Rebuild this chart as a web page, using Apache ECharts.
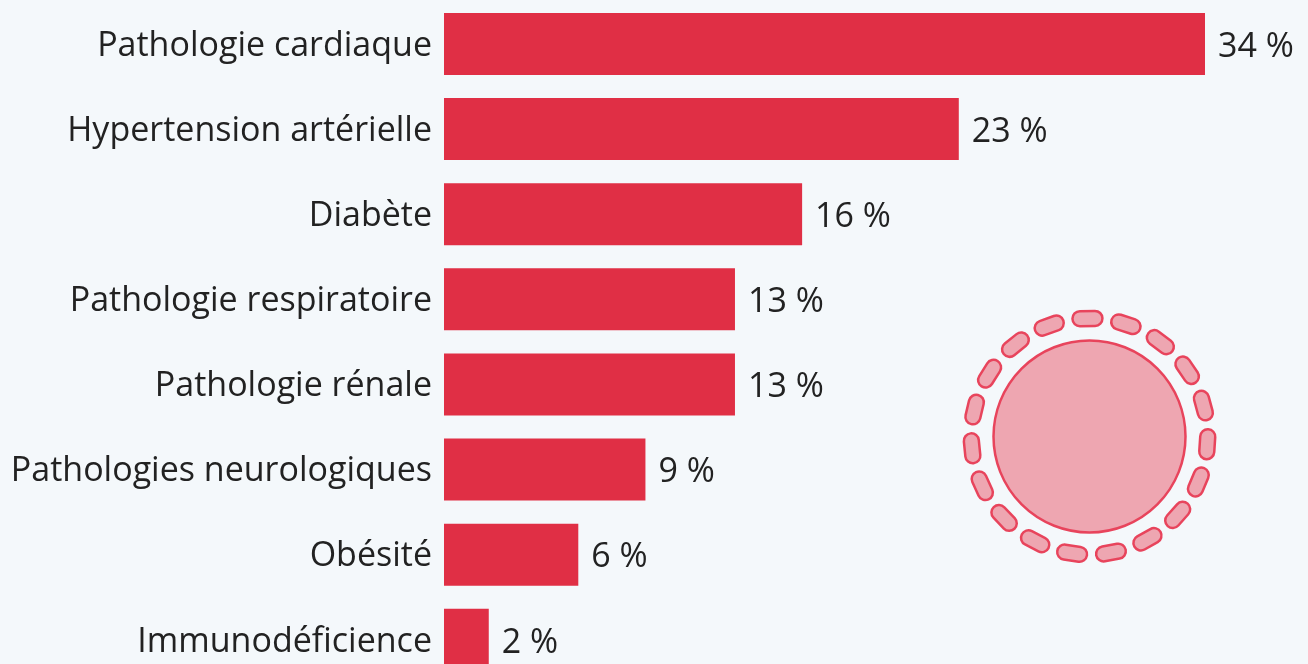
<!DOCTYPE html>
<html><head><meta charset="utf-8">
<style>html,body{margin:0;padding:0;background:#f4f8fb}#c{width:1308px;height:664px}</style>
<script src="https://cdn.jsdelivr.net/npm/echarts@6/dist/echarts.min.js"></script>
</head><body><div id="c"></div>
<script>
const categories = ["Pathologie cardiaque","Hypertension artérielle","Diabète","Pathologie respiratoire","Pathologie rénale","Pathologies neurologiques","Obésité","Immunodéficience"];
const values = [34,23,16,13,13,9,6,2];
const font = '"Open Sans"';
const cx = 1089.5, cy = 436.5, pills = 19;
const graphic = [{type:'circle',shape:{cx:cx,cy:cy,r:96},style:{fill:'#eea6b1',stroke:'#e8445c',lineWidth:2.5}}];
for (let i=0;i<pills;i++){
  const a=(-1+i*360/pills)*Math.PI/180;
  graphic.push({type:'rect',x:cx+118*Math.sin(a),y:cy-118*Math.cos(a),rotation:-a,
    shape:{x:-15,y:-7.5,width:30,height:15,r:7.5},style:{fill:'#eea6b1',stroke:'#e8445c',lineWidth:2.5}});
}
const chart = echarts.init(document.getElementById('c'),null,{renderer:'canvas'});
chart.setOption({
  backgroundColor:'#f4f8fb',animation:false,
  grid:{left:444,top:1.4,width:761,height:681,containLabel:false,outerBoundsMode:'none'},
  xAxis:{type:'value',min:0,max:34,show:false},
  yAxis:{type:'category',inverse:true,data:categories,axisLine:{show:false},axisTick:{show:false},
    axisLabel:{fontFamily:font,fontSize:34,color:'#222',margin:12,verticalAlign:'top',lineHeight:4}},
  series:[{type:'bar',data:values,barWidth:62,itemStyle:{color:'#e02f45'},
    label:{show:true,position:'right',distance:13,offset:[0,3],fontFamily:font,fontSize:34,color:'#222',formatter:p=>p.value+' %'}}],
  graphic:graphic
});
</script></body></html>
